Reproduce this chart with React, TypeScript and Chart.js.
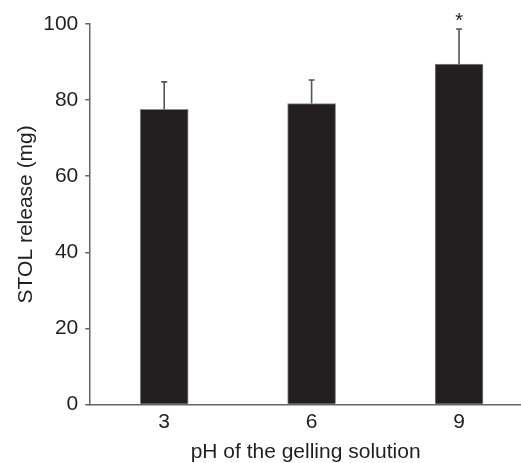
import React, { useEffect, useRef } from "react";
import { Chart, registerables } from "chart.js";

Chart.register(...registerables);

const phValues = [3, 6, 9];
const tickLabels = ["3", "6", "9"];
const meanRelease = [77.6, 79.1, 89.5];
const sdRelease = [7.2, 6.2, 9.2];
const significance = ["", "", "*"];

const TEXT = "#231f20";
const AXIS = "#666666";
const FONT = "'Liberation Sans', Arial, sans-serif";

const errorBarPlugin = {
  id: "errorBars",
  afterDatasetsDraw(chart: any) {
    const { ctx, scales } = chart;
    const xs = scales.x;
    const ys = scales.y;
    ctx.save();
    phValues.forEach((ph, i) => {
      const x = xs.getPixelForValue(ph);
      const yBase = ys.getPixelForValue(meanRelease[i]);
      const yTop = ys.getPixelForValue(meanRelease[i] + sdRelease[i]);
      ctx.strokeStyle = "#555555";
      ctx.lineWidth = 1.6;
      ctx.beginPath();
      ctx.moveTo(x, yBase);
      ctx.lineTo(x, yTop);
      ctx.moveTo(x - 3, yTop);
      ctx.lineTo(x + 3, yTop);
      ctx.stroke();
      if (significance[i]) {
        ctx.fillStyle = TEXT;
        ctx.font = `20px ${FONT}`;
        ctx.textAlign = "center";
        ctx.textBaseline = "alphabetic";
        ctx.fillText(significance[i], x, yTop - 2);
      }
    });
    ctx.restore();
  },
};

export default function App() {
  const ref = useRef<HTMLCanvasElement | null>(null);
  useEffect(() => {
    if (!ref.current) return;
    const chart = new Chart(ref.current, {
      type: "bar",
      data: {
        datasets: [
          {
            data: phValues.map((x, i) => ({ x, y: meanRelease[i] })),
            backgroundColor: "#231f20",
            borderColor: "#8a8a8a",
            borderWidth: 1,
            barThickness: 48,
          },
        ],
      },
      options: {
        responsive: false,
        animation: false,
        layout: { padding: { top: 24, right: 0, left: 14, bottom: -2 } },
        plugins: { legend: { display: false }, tooltip: { enabled: false } },
        scales: {
          x: {
            type: "linear",
            offset: false,
            min: 1.495,
            max: 10.261,
            afterBuildTicks: (scale: any) => {
              scale.ticks = phValues.map((v) => ({ value: v }));
            },
            ticks: {
              color: TEXT,
              font: { family: FONT, size: 21 },
              padding: 5,
              callback: (v: any) => tickLabels[phValues.indexOf(Number(v))] ?? "",
              maxRotation: 0,
              autoSkip: false,
            },
            grid: { display: false, drawTicks: false },
            border: { display: true, color: AXIS, width: 1.5 },
            title: {
              display: true,
              text: "pH of the gelling solution",
              color: TEXT,
              font: { family: FONT, size: 21 },
              padding: { top: 0, bottom: 0 },
            },
          },
          y: {
            min: 0,
            max: 100,
            ticks: {
              stepSize: 20,
              color: TEXT,
              font: { family: FONT, size: 21 },
              padding: 7,
            },
            grid: {
              display: true,
              drawOnChartArea: false,
              drawTicks: true,
              tickLength: 5,
              color: AXIS,
              lineWidth: 1.5,
            },
            border: { display: true, color: AXIS, width: 1.5 },
            title: {
              display: true,
              text: "STOL release (mg)",
              color: TEXT,
              font: { family: FONT, size: 21 },
              padding: { top: 0, bottom: -3 },
            },
          },
        },
      } as any,
      plugins: [errorBarPlugin],
    });
    return () => chart.destroy();
  }, []);
  return (
    <div style={{ position: "absolute", left: 0, top: 0, width: 521, height: 463, background: "#fff" }}>
      <canvas ref={ref} width={521} height={463} />
    </div>
  );
}
